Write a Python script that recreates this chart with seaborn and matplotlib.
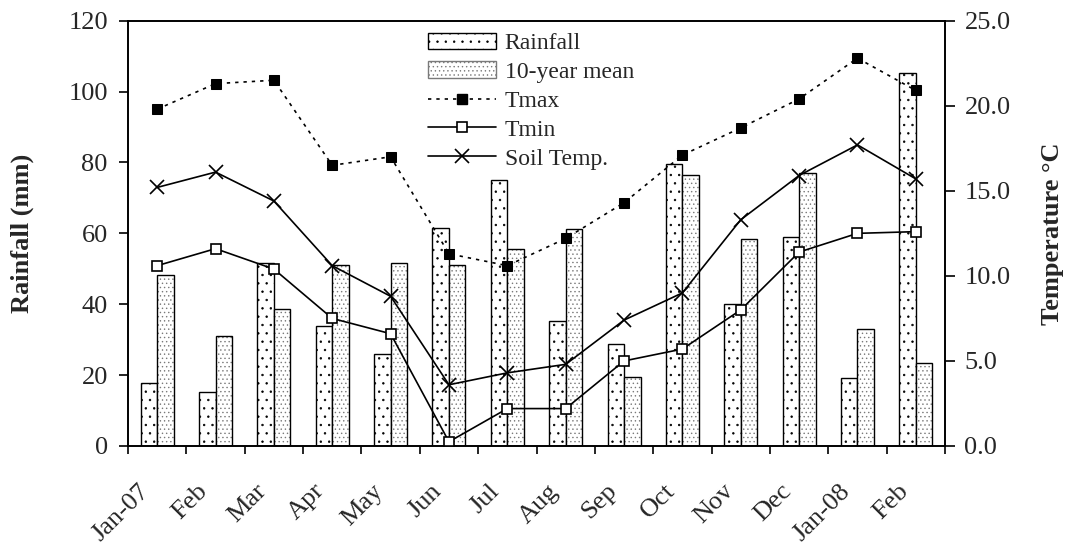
import numpy as np
import pandas as pd
import matplotlib
matplotlib.use("Agg")
import matplotlib.pyplot as plt
import matplotlib.transforms as mtransforms
from matplotlib.lines import Line2D
from matplotlib.patches import Patch, Rectangle
import seaborn as sns

# ---------------- data ----------------
periods = ["2007-01", "2007-02", "2007-03", "2007-04", "2007-05", "2007-06", "2007-07",
           "2007-08", "2007-09", "2007-10", "2007-11", "2007-12", "2008-01", "2008-02"]
tick_labels = ["Jan-07", "Feb", "Mar", "Apr", "May", "Jun", "Jul", "Aug", "Sep", "Oct",
               "Nov", "Dec", "Jan-08", "Feb"]
rainfall = [17.7, 15.3, 51.5, 33.9, 25.9, 61.6, 75.0, 35.3, 28.7, 79.5, 40.1, 58.9, 19.2, 105.3]
mean10 = [48.3, 31.1, 38.7, 51.1, 51.6, 51.1, 55.6, 61.1, 19.5, 76.6, 58.4, 77.1, 32.9, 23.5]
tmax = [19.8, 21.3, 21.5, 16.5, 17.0, 11.3, 10.6, 12.2, 14.3, 17.1, 18.7, 20.4, 22.8, 20.9]
tmin = [10.6, 11.6, 10.4, 7.5, 6.6, 0.25, 2.2, 2.2, 5.0, 5.7, 8.0, 11.4, 12.5, 12.6]
soil = [15.2, 16.1, 14.4, 10.6, 8.8, 3.6, 4.3, 4.8, 7.4, 9.0, 13.3, 15.9, 17.7, 15.7]
series_names = ["Rainfall", "10-year mean"]

df = pd.DataFrame({
    "period": periods * 2,
    "value": rainfall + mean10,
    "series": [series_names[0]] * len(periods) + [series_names[1]] * len(periods),
})

# ---------------- style ----------------
sns.set_theme(style="ticks")
plt.rcParams["font.family"] = ["Liberation Serif", "DejaVu Serif"]
plt.rcParams["hatch.linewidth"] = 0.5

fig = plt.figure(figsize=(10.71, 5.43), dpi=100)
ax = fig.add_axes([128 / 1071, 1 - 446 / 543, (945 - 128) / 1071, (446 - 20.7) / 543])

sns.barplot(data=df, x="period", y="value", hue="series", order=periods,
            hue_order=series_names, palette=["white", "white"], width=0.565, gap=0,
            edgecolor="black", linewidth=1.0, saturation=1, legend=False, ax=ax)

n = len(periods)
bars = list(ax.patches)
rain_bars = bars[:n]
mean_bars = bars[n:2 * n]
MEAN_DOT = "#7a7a7a"
for p in rain_bars:
    p.set_hatch("..")
    p.set_edgecolor("black")
for p in mean_bars:
    p.set_hatch("....")
    p.set_edgecolor(MEAN_DOT)
    p.set_linewidth(0)
    ax.add_patch(Rectangle((p.get_x(), p.get_y()), p.get_width(), p.get_height(),
                           fill=False, edgecolor="black", linewidth=1.0, zorder=p.get_zorder()))

ax.set_xlim(-0.5, n - 0.5)
ax.set_ylim(0, 120)
ax.set_yticks(np.arange(0, 121, 20))
ax.set_xticks(np.arange(n))
ax.set_xticklabels(tick_labels, rotation=45, ha="right", va="center", rotation_mode="anchor",
                   fontsize=19)
ax.set_xticks(np.arange(-0.5, n, 1), minor=True)
ax.tick_params(axis="x", which="major", length=0, pad=30)
ax.tick_params(axis="x", which="minor", length=6, width=1.2, color="black", direction="out")
ax.tick_params(axis="y", length=6.5, width=1.2, color="black", direction="out", labelsize=19, pad=8)
ax.set_xlabel("")
ax.set_ylabel("Rainfall (mm)", fontsize=19, fontweight="bold", labelpad=25)
for s in ax.spines.values():
    s.set_visible(True)
    s.set_color("black")
    s.set_linewidth(1.2)

# ---------------- temperature lines ----------------
ax2 = ax.twinx()
xpos = np.arange(n)
DOTTED = (0, (2.0, 3.0))
sns.lineplot(x=xpos, y=tmax, ax=ax2, color="black", linestyle=DOTTED, linewidth=1.2,
             marker="s", markersize=7.5, markerfacecolor="black", markeredgecolor="black")
sns.lineplot(x=xpos, y=tmin, ax=ax2, color="black", linestyle="-", linewidth=1.2,
             marker="s", markersize=7.5, markerfacecolor="white", markeredgecolor="black",
             markeredgewidth=1.2)
sns.lineplot(x=xpos, y=soil, ax=ax2, color="black", linestyle="-", linewidth=1.2,
             marker="x", markersize=10, markeredgecolor="black", markeredgewidth=1.2)
ax2.set_ylim(0, 25)
ax2.set_yticks(np.arange(0, 26, 5))
ax2.set_yticklabels([f"{v:.1f}" for v in np.arange(0, 26, 5)])
ax2.tick_params(axis="y", length=7, width=1.2, color="black", direction="out", labelsize=19, pad=7)
ax2.set_ylabel("Temperature °C", fontsize=19, fontweight="bold", labelpad=22)
ax2.set_xlim(-0.5, n - 0.5)
for s in ax2.spines.values():
    s.set_visible(True)
    s.set_color("black")
    s.set_linewidth(1.2)

# ---------------- legend ----------------
handles = [
    Patch(facecolor="white", edgecolor="black", hatch="..", linewidth=1.0),
    Patch(facecolor="white", edgecolor=MEAN_DOT, hatch="....", linewidth=1.0),
    Line2D([], [], color="black", linestyle=DOTTED, linewidth=1.2, marker="s",
           markersize=7.5, markerfacecolor="black"),
    Line2D([], [], color="black", linestyle="-", linewidth=1.2, marker="s", markersize=7.5,
           markerfacecolor="white", markeredgewidth=1.2),
    Line2D([], [], color="black", linestyle="-", linewidth=1.2, marker="x", markersize=10,
           markeredgewidth=1.2),
]
labels = ["Rainfall", "10-year mean", "Tmax", "Tmin", "Soil Temp."]
leg = ax2.legend(handles, labels, loc="upper left", bbox_to_anchor=(0.367, 0.972),
                 frameon=False, fontsize=17, handlelength=2.9, handleheight=0.7,
                 handletextpad=0.35, labelspacing=0.31, borderpad=0, borderaxespad=0,
                 numpoints=1)

# shift the rotated month labels slightly left (as in the reference)
shift = mtransforms.ScaledTranslation(-11 / 100, 0, fig.dpi_scale_trans)
for tick in ax.xaxis.get_major_ticks():
    tick.label1.set_transform(tick.label1.get_transform() + shift)

fig.savefig("out.png", dpi=100)
